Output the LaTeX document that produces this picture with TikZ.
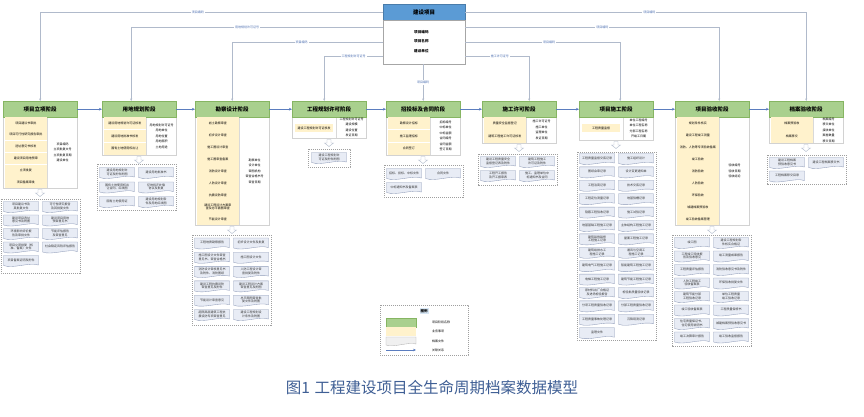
\documentclass[tikz,border=0pt]{standalone}
\usepackage{fontspec}
\setmainfont{Noto Sans CJK SC}
\XeTeXlinebreaklocale "zh"
\XeTeXlinebreakskip = 0pt
\usetikzlibrary{arrows.meta}
\definecolor{hdrgreen}{HTML}{A9D08E}
\definecolor{hdrline}{HTML}{86B562}
\definecolor{itemyel}{HTML}{FFF2CC}
\definecolor{topblue}{HTML}{5B9BD5}
\definecolor{docfill}{HTML}{E8ECF5}
\definecolor{docline}{HTML}{8F9BB8}
\definecolor{linkgray}{HTML}{B0BACB}
\definecolor{labblue}{HTML}{4A6DB0}
\definecolor{flowblue}{HTML}{5B7DBF}
\definecolor{capblue}{HTML}{3F5F95}
\tikzset{
  hdr/.style={anchor=north west, minimum width=74pt, minimum height=16pt, inner sep=0pt,
    fill=hdrgreen, draw=hdrline, line width=0.4pt, font=\fontsize{5.5}{6}\selectfont\bfseries},
  body/.style={fill=white, draw=gray!35, line width=0.4pt},
  divider/.style={draw=gray!30, line width=0.4pt},
  item/.style={fill=itemyel, text width=40.5pt, inner sep=1pt, align=center,
    font=\fontsize{3}{3.6}\selectfont},
  attrtxt/.style={align=center, inner sep=0pt, font=\fontsize{3}{5.5}\selectfont},
  docshape/.style={fill=docfill, draw=docline, line width=0.35pt},
  doctxt/.style={align=center, text width=31pt, inner sep=0pt, text=black!80,
    font=\fontsize{3}{3.6}\selectfont},
  grp/.style={draw=gray!75, line width=0.5pt, dash pattern=on 1.2pt off 0.8pt},
  hollow/.style={draw=linkgray, fill=white, line width=0.4pt},
  link/.style={draw=linkgray, line width=0.5pt, -{Stealth[length=2.5pt,width=2pt]}},
  linklab/.style={font=\fontsize{3}{3.6}\selectfont, text=labblue, fill=white, inner sep=1pt},
  flow/.style={draw=flowblue, line width=0.6pt, -{Stealth[length=3pt,width=2.6pt]}},
  legtxt/.style={anchor=west, font=\fontsize{3}{3.6}\selectfont, inner sep=0pt}
}
\newcommand\mkhollow[2]{%
  \draw[hollow] ({#1-2},{#2}) -- ({#1+2},{#2}) -- ({#1+2},{#2+3.5}) -- ({#1+4.5},{#2+3.5})
    -- ({#1},{#2+7}) -- ({#1-4.5},{#2+3.5}) -- ({#1-2},{#2+3.5}) -- cycle;}
\newcommand\mkstage[5]{%
  \filldraw[body] (#2,117) rectangle ({#2+74},#3);
  \draw[divider] ({#2+44.5},117) -- ({#2+44.5},#3);
  \node[hdr] (#1) at (#2,101) {#4};
  \node[attrtxt] (#1a) at ({#2+59.5},{(117+#3)/2}) {#5};
  \mkhollow{#2+37}{#3+1.5}}
\newcommand\mkitems[4]{%
  \foreach \t [count=\i] in {#4} {%
    \node[item, minimum height={#3pt-0.5pt}] (#1i\i) at ({#2+22.75},{117+#3*(\i-0.5)}) {\t};}}
\newcommand\mkdoc[4]{%
  \filldraw[docshape] ({#2-17.5},{#3-5.5}) -- ({#2+17.5},{#3-5.5}) -- ({#2+17.5},{#3+4})
    .. controls ({#2+8},{#3+1}) and ({#2-8},{#3+8}) .. ({#2-17.5},{#3+4.5}) -- cycle;
  \node[doctxt] (#1) at ({#2},{#3-0.7}) {#4};}
\newcommand\mkdocs[5]{%
  \foreach \da/\db [count=\rw] in {#5} {%
    \mkdoc{#1r\rw l}{#2+20}{#3+#4*(\rw-1)}{\da}%
    \mkdoc{#1r\rw r}{#2+59}{#3+#4*(\rw-1)}{\db}}}
\newcommand\mkgroup[3]{\draw[grp] (#1,#2) rectangle ({#1+79},#3);}

\begin{document}
\begin{tikzpicture}[x=1pt,y=-1pt]
\fill[white] (0,0) rectangle (864,416);
\useasboundingbox (0,0) rectangle (864,416);

% ---------- top project box ----------
\node[anchor=north west, fill=topblue, draw=topblue!80!black, line width=0.4pt,
  minimum width=82pt, minimum height=16pt, inner sep=0pt,
  font=\fontsize{5.5}{6}\selectfont\bfseries] (projh) at (383,4) {建设项目};
\node[anchor=north west, fill=white, draw=gray!70, line width=0.4pt,
  minimum width=82pt, minimum height=44pt, inner sep=0pt] (proj) at (383,20) {};
\node[anchor=west, align=left, inner sep=0pt, font=\fontsize{3.6}{9.5}\selectfont\bfseries]
  (projattr) at (414,41.5) {项目编码\\项目名称\\建设单位};

% ---------- stages ----------
\mkstage{s1}{3}{188}{项目立项阶段}{项目编码\\立项批复文号\\立项批复日期\\建设单位}
\mkitems{s1}{3}{11.83}{项目建议书审批,项目可行性研究报告审批,选址意见书核发,建设项目用地预审,立项批复,项目备案审批}

\mkstage{s2}{102}{155}{用地规划阶段}{用地规划许可证号\\用地单位\\用地位置\\用地面积\\土地用途}
\mkitems{s2}{102}{12.67}{建设用地规划许可证核发,建设用地批准书核发,国有土地使用权出让}

\mkstage{s3}{195}{225}{勘察设计阶段}{勘察单位\\设计单位\\审图机构\\审查合格书号\\审查日期}
\mkitems{s3}{195}{12}{岩土勘察审查,初步设计审查,施工图设计审查,施工图审查备案,消防设计审查,人防设计审查,抗震设防审查,建设工程设计方案审查及总平面图审查,节能设计审查}

\mkstage{s4}{292}{138}{工程规划许可阶段}{工程规划许可证号\\建设规模\\建设位置\\发证日期}
\node[item, text width=36pt, minimum height=8pt] (s4i1) at (314,128) {建设工程规划许可证核发};

\mkstage{s5}{386}{155}{招投标及合同阶段}{招标编号\\中标单位\\中标金额\\合同编号\\合同金额\\签订日期}
\mkitems{s5}{386}{12.67}{勘察设计招标,施工监理招标,合同签订}

\mkstage{s6}{482}{143}{施工许可阶段}{施工许可证号\\施工单位\\监理单位\\发证日期}
\mkitems{s6}{482}{13}{质量安全监督登记,建筑工程施工许可证核发}

\mkstage{s7}{579}{140}{项目施工阶段}{单位工程编号\\单位工程名称\\分部工程名称\\开竣工日期}
\node[item, text width=36pt, minimum height=8pt] (s7i1) at (601,128) {工程质量监督};

\mkstage{s8}{675}{225}{项目验收阶段}{验收编号\\验收日期\\验收结论}
\mkitems{s8}{675}{12}{规划条件核实,建设工程竣工测量,消防、人防等专项验收备案,竣工验收,消防验收,人防验收,环保验收,城建档案预验收,竣工验收备案管理}

\mkstage{s9}{769}{143}{档案验收阶段}{档案编号\\移交单位\\接收单位\\案卷数量\\移交日期}
\mkitems{s9}{769}{13}{档案预验收,档案移交}

% ---------- flow between stages ----------
\draw[flow] (s1.east) -- (s2.west);
\draw[flow] (s2.east) -- (s3.west);
\draw[flow] (s3.east) -- (s4.west);
\draw[flow] (s4.east) -- (s5.west);
\draw[flow] (s5.east) -- (s6.west);
\draw[flow] (s6.east) -- (s7.west);
\draw[flow] (s7.east) -- (s8.west);
\draw[flow] (s8.east) -- (s9.west);

% ---------- links from project box ----------
\draw[link] (projh.west) -| (s1.north) node[pos=0.27, linklab] {项目编码};
\draw[link] ([yshift=-7pt]proj.north west) -| ([xshift=-8pt]s2.north) node[pos=0.27, linklab] {用地规划许可证号};
\draw[link] ([yshift=-22pt]proj.north west) -| (s3.north) node[pos=0.27, linklab] {项目编码};
\draw[link] ([yshift=-36pt]proj.north west) -| ([xshift=-5pt]s4.north) node[pos=0.25, linklab] {工程规划许可证号};
\draw[link] (s5.north |- proj.south) -- (s5.north) node[midway, linklab] {项目编码};
\draw[link] ([yshift=-36pt]proj.north east) -| ([xshift=10pt]s6.north) node[pos=0.27, linklab] {施工许可证号};
\draw[link] ([yshift=-22pt]proj.north east) -| ([xshift=4pt]s7.north) node[pos=0.27, linklab] {项目编码};
\draw[link] ([yshift=-7pt]proj.north east) -| ([xshift=7pt]s8.north) node[pos=0.27, linklab] {项目编码};
\draw[link] (projh.east) -| (s9.north) node[pos=0.27, linklab] {项目编码};

% ---------- document groups ----------
\mkgroup{1}{199}{273}
\mkdocs{g1}{1}{207}{13.5}{项目建议书及其批复文件/可行性研究报告及其批复文件,
  建设项目选址意见书及附图/建设项目用地预审意见书,
  环境影响评价报告及审批文件/节能评估报告及审查意见,
  项目立项批复（核准、备案）文件/社会稳定风险评估报告}
\mkdoc{g1r5l}{21}{261}{项目备案证明及附件}

\mkgroup{97}{164}{210}
\mkdocs{g2}{97}{173}{14.5}{建设用地规划许可证及附件附图/建设用地批准书,
  国有土地使用权出让合同、红线图/征地拆迁补偿协议及批复,
  国有土地使用证/建设用地规划条件及用地红线图}

\mkgroup{192}{235}{325}
\mkdocs{g3}{192}{243.5}{14.3}{工程地质勘察报告/初步设计文件及批复,
  施工图设计文件审查意见书、审查合格书/施工图设计文件,
  消防设计审核意见书及附件、消防图纸/人防工程设计审查批复及附件,
  建设工程抗震设防审查意见及附件/建设工程设计方案审查意见及附图,
  节能设计审查意见/总平面图审查批复文件及附图,
  超限高层建筑工程抗震设防专项审查意见/建设工程规划设计条件及附图}

\draw[grp] (308,149) rectangle (350,167);
\mkdoc{g4r1l}{329}{158}{建设工程规划许可证及附件附图}

\mkgroup{384}{165}{197}
\mkdocs{g5}{384}{174}{14}{招标、投标、中标文件/合同文件}
\mkdoc{g5r2l}{404}{188}{中标通知书及备案表}

\mkgroup{478}{154}{185}
\mkdocs{g6}{478}{162}{14}{建设工程质量安全监督登记表及附件/建筑工程施工许可证及附件,
  工程开工报告及开工报审表/施工、监理单位中标通知书及合同}

\mkgroup{577}{152}{340}
\mkdocs{g7}{577}{159}{13.4}{工程质量监督交底记录/施工组织设计,
  图纸会审记录/设计变更通知单,
  工程洽商记录/技术交底记录,
  工程定位测量记录/地基验槽记录,
  隐蔽工程验收记录/施工试验记录,
  地基基础工程施工记录/主体结构工程施工记录,
  建筑装饰装修工程施工记录/屋面工程施工记录,
  建筑给排水工程施工记录/通风与空调工程施工记录,
  建筑电气工程施工记录/智能建筑工程施工记录,
  电梯工程施工记录/建筑节能工程施工记录,
  原材料出厂合格证及进场检验报告/检验批质量验收记录,
  分项工程质量验收记录/分部工程质量验收记录,
  工程质量事故处理记录/沉降观测记录}
\mkdoc{g7r14l}{597}{333.2}{监理文件}

\mkgroup{672}{235}{346}
\mkdocs{g8}{672}{243}{13.5}{竣工图/建设工程规划条件核实合格证,
  工程竣工验收报告及验收意见/竣工测量成果报告,
  工程质量评估报告/消防验收意见书及附件,
  人防工程竣工验收备案表/环保验收批复文件,
  建筑节能分部工程验收记录/单位工程质量竣工验收记录,
  竣工验收备案表/工程质量保修书,
  住宅质量保证书、住宅使用说明书/城建档案预验收意见书,
  竣工决算审计报告/竣工验收监督报告}

\mkgroup{767}{155}{184}
\mkdocs{g9}{767}{163}{13.5}{建设工程档案预验收意见书/建设工程档案移交书}
\mkdoc{g9r2l}{787}{176.5}{工程档案移交目录}

% ---------- legend ----------
\draw[grp] (380,305) rectangle (468,355);
\node[fill=topblue!25, inner sep=1pt, font=\fontsize{3.5}{4}\selectfont\bfseries] (legt) at (424,311) {图例};
\node[fill=hdrgreen, draw=hdrline, line width=0.4pt, minimum width=30pt, minimum height=8.5pt, inner sep=0pt] (lg1) at (401,322.5) {};
\node[fill=itemyel, minimum width=30pt, minimum height=8.5pt, inner sep=0pt] (lg2) at (401,331.5) {};
\filldraw[fill=gray!12, draw=gray!60, line width=0.35pt] (386,337) -- (416,337) -- (416,344)
  .. controls (409,341.5) and (393,348) .. (386,345) -- cycle;
\coordinate (lg4a) at (386,350);
\coordinate (lg4b) at (416,350);
\draw[flow] (lg4a) -- (lg4b);
\node[legtxt] (lt1) at (432,322.5) {项目阶段名称};
\node[legtxt] (lt2) at (432,331.5) {业务事项};
\node[legtxt] (lt3) at (432,341) {档案文件};
\node[legtxt] (lt4) at (432,350) {关联关系};

% ---------- caption ----------
\node[font=\fontsize{15.5}{18}\selectfont, text=capblue, inner sep=0pt] (cap) at (432,388)
  {图1\hspace{0.3em}工程建设项目全生命周期档案数据模型};
\end{tikzpicture}
\end{document}
